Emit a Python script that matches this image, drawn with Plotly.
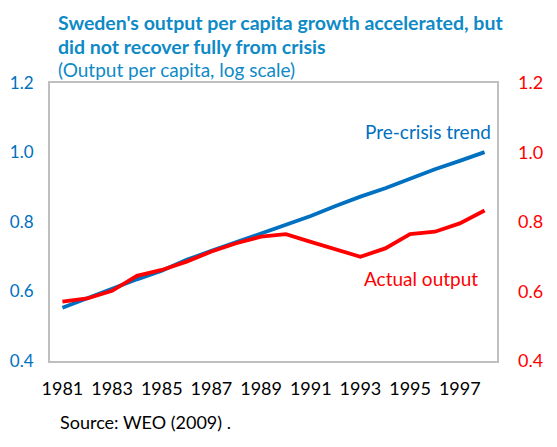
import plotly.graph_objects as go

# Output per capita, 1981-1998
years = list(range(1981, 1999))
pre_crisis_trend = [0.553, 0.580, 0.609, 0.635, 0.660, 0.691, 0.717, 0.742, 0.767,
                    0.791, 0.817, 0.846, 0.873, 0.897, 0.924, 0.952, 0.976, 1.001]
actual_output = [0.571, 0.580, 0.602, 0.645, 0.662, 0.686, 0.715, 0.739, 0.758,
                 0.765, 0.743, 0.722, 0.700, 0.724, 0.765, 0.772, 0.796, 0.833]
year_ticks = list(range(1981, 1998, 2))
y_ticks = [0.4, 0.6, 0.8, 1.0, 1.2]
y_labels = ["0.4", "0.6", "0.8", "1.0", "1.2"]

BLUE = "#0070C0"
RED = "#FF0000"
TITLE = "#0E8AC6"
FONT = "Lato"

fig = go.Figure()

fig.add_trace(go.Scatter(
    x=years, y=pre_crisis_trend, mode="lines",
    line=dict(color=BLUE, width=3.8), name="Pre-crisis trend"
))
fig.add_trace(go.Scatter(
    x=years, y=actual_output, mode="lines",
    line=dict(color=RED, width=3.8), name="Actual output", yaxis="y2"
))

axis_common = dict(range=[0.4, 1.2], tickvals=y_ticks, ticktext=y_labels,
                   showgrid=False, zeroline=False, ticks="", automargin=False)

# margins allow for the 8px body margin of the html page
fig.update_layout(
    width=557, height=447,
    margin=dict(l=42, r=68, t=75, b=94),
    plot_bgcolor="white", paper_bgcolor="white",
    showlegend=False,
    font=dict(family=FONT, size=18, color="black"),
    xaxis=dict(
        range=[1980.5, 1998.5], tickvals=year_ticks,
        showgrid=False, zeroline=False, ticks="", automargin=False,
        showline=True, mirror=True, linecolor="#BFBFBF", linewidth=2,
        ticklabelstandoff=10, tickfont=dict(color="black", size=18)
    ),
    yaxis=dict(
        **axis_common,
        showline=True, mirror=True, linecolor="#BFBFBF", linewidth=2,
        ticklabelstandoff=11, tickfont=dict(color=BLUE, size=17)
    ),
    yaxis2=dict(
        **axis_common, overlaying="y", side="right",
        showline=False, ticklabelstandoff=20, tickfont=dict(color=RED, size=18)
    ),
)

# Series labels
fig.add_annotation(x=1998.35, y=1.06, text="Pre-crisis trend", showarrow=False,
                   xanchor="right", yanchor="middle", font=dict(color=BLUE, size=19))
fig.add_annotation(x=1997.8, y=0.636, text="Actual output", showarrow=False,
                   xanchor="right", yanchor="middle", font=dict(color=RED, size=19))

# Title, subtitle and source
fig.add_annotation(xref="paper", yref="paper", x=0.014, y=1.219,
                   text="<b>Sweden's output per capita growth accelerated, but</b>",
                   showarrow=False, xanchor="left", yanchor="middle",
                   font=dict(color=TITLE, size=19.5))
fig.add_annotation(xref="paper", yref="paper", x=0.014, y=1.133,
                   text="<b>did not recover fully from crisis</b>",
                   showarrow=False, xanchor="left", yanchor="middle",
                   font=dict(color=TITLE, size=19.5))
fig.add_annotation(xref="paper", yref="paper", x=0.014, y=1.047,
                   text="(Output per capita, log scale)",
                   showarrow=False, xanchor="left", yanchor="middle",
                   font=dict(color=TITLE, size=19))
fig.add_annotation(xref="paper", yref="paper", x=0.018, y=-0.219,
                   text="Source: WEO (2009) .",
                   showarrow=False, xanchor="left", yanchor="middle",
                   font=dict(color="black", size=18))

fig.write_html("out.html")
